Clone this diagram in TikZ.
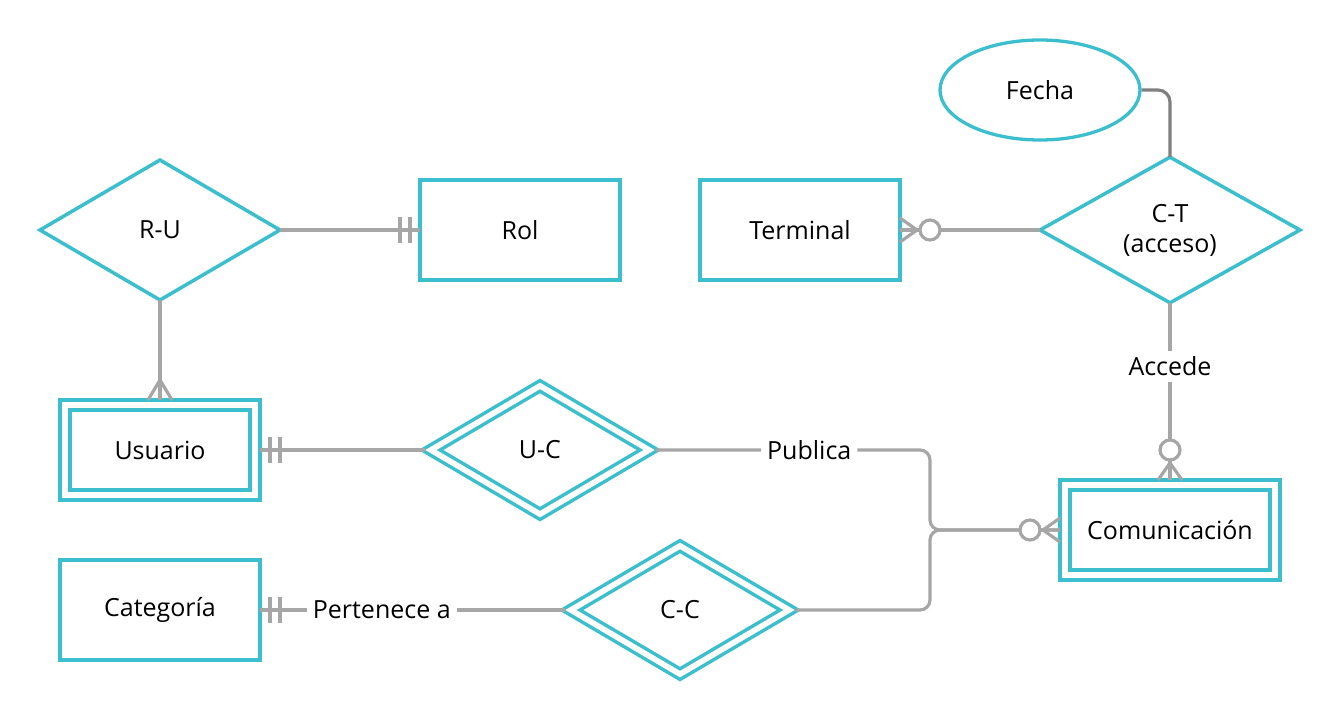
\documentclass[tikz,border=0pt]{standalone}
\usepackage{fontspec}
\setmainfont{Open Sans}
\usetikzlibrary{shapes.geometric}
\definecolor{ercyan}{HTML}{3BBFCE}
\definecolor{ergray}{HTML}{A6A6A6}
\definecolor{erdark}{HTML}{808080}
\tikzset{
  entity/.style={draw=ercyan, line width=3.2pt, fill=white, minimum width=200pt, minimum height=100pt, inner sep=0pt, outer sep=0pt},
  weakentity/.style={entity, line width=3.6pt, double=white, double distance=6.2pt, outer sep=5pt},
  relation/.style={diamond, draw=ercyan, line width=3.5pt, fill=white, minimum width=240pt, minimum height=140pt, inner sep=0pt, outer sep=0pt, align=center},
  weakrelation/.style={relation, double=white, double distance=5.6pt, minimum width=222pt, minimum height=132pt, outer sep=4.5pt},
  attrib/.style={ellipse, draw=ercyan, line width=3.3pt, fill=white, minimum width=200pt, minimum height=100pt, inner sep=0pt},
  erline/.style={draw=ergray, line width=3.2pt},
  lbl/.style={fill=white, inner sep=6pt},
  onebar/.pic={\draw[erline] (10,-13) -- (10,13) (20,-13) -- (20,13);},
  many/.pic={\draw[erline] (0,-12) -- (20,0) -- (0,12);},
  zeromany/.pic={\draw[erline] (0,-12) -- (17,0) -- (0,12);
    \draw[erline, fill=white] (30,0) circle (10pt);}
}
\begin{document}
\begin{tikzpicture}[x=1pt, y=-1pt, font=\fontsize{25}{30}\selectfont]
\useasboundingbox (0,0) rectangle (1340,720);
\node[relation] (ru) at (160,230) {R-U};
\node[entity] (rol) at (520,230) {Rol};
\node[entity] (term) at (800,230) {Terminal};
\node[relation, minimum width=260pt] (ct) at (1170,230) {C-T\\(acceso)};
\node[attrib] (fecha) at (1040,90) {Fecha};
\node[weakentity, minimum width=190pt, minimum height=90pt] (usu) at (160,450) {Usuario};
\node[weakrelation] (uc) at (540,450) {U-C};
\node[weakentity, minimum width=210pt, minimum height=90pt] (com) at (1170,530) {Comunicación};
\node[entity] (cat) at (160,610) {Categoría};
\node[weakrelation] (cc) at (680,610) {C-C};
\coordinate (junc) at (930,530);

\draw[erline] (ru.east) -- (rol.west);
\draw[erline] (ru.south) -- (usu.north);
\draw[erline] (term.east) -- (ct.west);
\draw[erline, draw=erdark, rounded corners=12pt] (fecha.east) -| (ct.north);
\draw[erline] (ct.south) -- node[lbl, pos=.36] {Accede} (com.north);
\draw[erline] (usu.east) -- (uc.west);
\draw[erline, rounded corners=10pt] (uc.east) -- node[lbl, pos=.56] {Publica} (uc.east -| junc) -- (junc) -- (com.west);
\draw[erline, rounded corners=10pt] (cc.east) -- (cc.east -| junc) -- (junc) -- (com.west);
\draw[erline] (cat.east) -- node[lbl, pos=.4] {Pertenece a} (cc.west);

\pic[rotate=180] at (rol.west) {onebar};
\pic at (usu.east) {onebar};
\pic at (cat.east) {onebar};
\pic[rotate=90] at (usu.north) {many};
\pic at (term.east) {zeromany};
\pic[rotate=180] at (com.west) {zeromany};
\pic[rotate=90] at (com.north) {zeromany};
\end{tikzpicture}
\end{document}
